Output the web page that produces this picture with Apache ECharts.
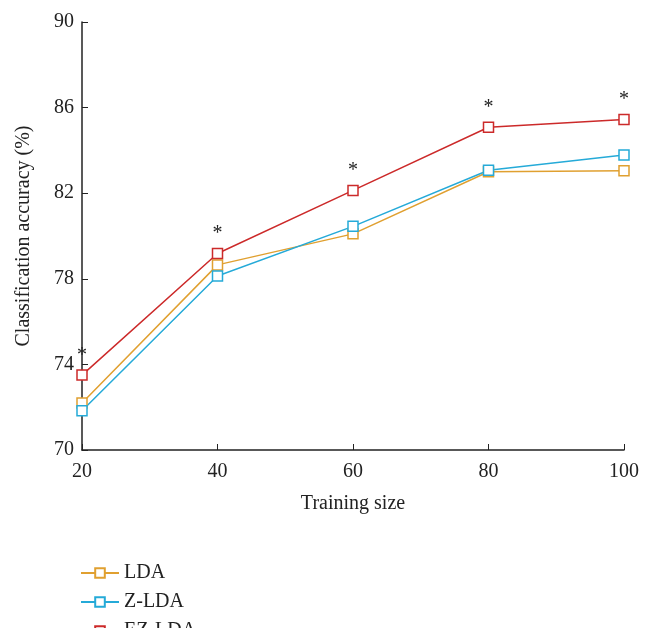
<!DOCTYPE html>
<html>
<head>
<meta charset="utf-8">
<script src="https://cdn.jsdelivr.net/npm/echarts@6/dist/echarts.min.js"></script>
<style>html,body{margin:0;padding:0;background:#fff}#main{width:650px;height:628px}</style>
</head>
<body>
<div id="main"></div>
<script>
var sizes = [20, 40, 60, 80, 100];
var lda = [72.2, 78.65, 80.1, 83.0, 83.05];
var zlda = [71.83, 78.13, 80.45, 83.07, 83.78];
var ezlda = [73.5, 79.18, 82.13, 85.08, 85.44];
var yTicks = [70, 74, 78, 82, 86, 90];
var names = ['LDA', 'Z-LDA', 'EZ-LDA'];

function pairs(v) {
    return sizes.map(function (x, i) { return [x, v[i]]; });
}

var font = '"Liberation Serif", "DejaVu Serif", serif';
var myChart = echarts.init(document.getElementById('main'));
function line(name, color, data, star) {
    return {
        name: name,
        type: 'line',
        data: pairs(data),
        symbol: 'rect',
        symbolSize: 10,
        itemStyle: {color: '#fff', borderColor: color, borderWidth: 1.5},
        lineStyle: {color: color, width: 1.5},
        label: star ? {show: true, position: 'top', distance: 4, formatter: '*', fontSize: 20, color: '#222', fontFamily: font} : {show: false},
        z: star ? 3 : 2
    };
}
// one legend per row so the last one can run off the bottom like the original
var legends = names.map(function (n, i) {
    return {
        orient: 'vertical', left: 80, top: 563 + i * 29, padding: 0,
        itemWidth: 38, itemHeight: 12,
        textStyle: {fontSize: 20, color: '#222', fontFamily: font},
        data: [n]
    };
});
var option = {
    animation: false,
    textStyle: {fontFamily: font},
    grid: {left: 82, right: 26, top: 22, bottom: 178},
    legend: legends,
    xAxis: {
        type: 'value', min: 20, max: 100, interval: 20,
        name: 'Training size', nameLocation: 'middle', nameGap: 44,
        nameTextStyle: {fontSize: 20, color: '#222', fontFamily: font},
        axisLine: {lineStyle: {color: '#222', width: 1.5}},
        axisTick: {inside: true, length: 6, lineStyle: {color: '#222'}},
        axisLabel: {fontSize: 20, color: '#222', margin: 12, fontFamily: font},
        splitLine: {show: false}
    },
    yAxis: {
        type: 'value', min: 70, max: 90, interval: 4,
        name: 'Classification accuracy (%)', nameLocation: 'middle', nameGap: 48,
        nameTextStyle: {fontSize: 20, color: '#222', fontFamily: font},
        axisLine: {show: true, lineStyle: {color: '#222', width: 1.5}},
        axisTick: {show: true, inside: true, length: 6, lineStyle: {color: '#222'}},
        axisLabel: {fontSize: 20, color: '#222', margin: 8, fontFamily: font,
            formatter: function (v) { return yTicks.indexOf(v) >= 0 ? v : ''; }},
        splitLine: {show: false}
    },
    series: [
        line('LDA', '#e0a030', lda, false),
        line('Z-LDA', '#25aad8', zlda, false),
        line('EZ-LDA', '#cc2a2a', ezlda, true)
    ]
};
myChart.setOption(option);
</script>
</body>
</html>
